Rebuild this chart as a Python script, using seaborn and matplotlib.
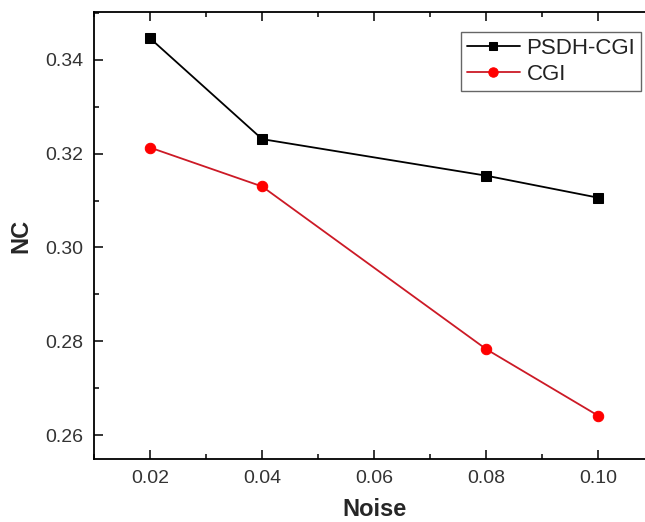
import matplotlib
matplotlib.use("Agg")
import matplotlib.pyplot as plt
import seaborn as sns
import pandas as pd
from matplotlib.ticker import MultipleLocator, FormatStrFormatter

noise = [0.02, 0.04, 0.08, 0.10]
psdh_cgi = [0.3446, 0.3231, 0.3153, 0.3106]
cgi = [0.3213, 0.3130, 0.2783, 0.2641]
series_names = ["PSDH-CGI", "CGI"]

sns.set_theme(style="ticks")
plt.rcParams["font.family"] = ["Liberation Sans", "DejaVu Sans"]

fig = plt.figure(figsize=(6.45, 5.22), dpi=100)
ax = fig.add_axes([94 / 645, 63 / 522, 560.5 / 645, 447 / 522])

df1 = pd.DataFrame({"Noise": noise, "NC": psdh_cgi})
df2 = pd.DataFrame({"Noise": noise, "NC": cgi})

sns.lineplot(data=df1, x="Noise", y="NC", ax=ax, color="black", lw=1.3,
             marker="s", markersize=6.5, markerfacecolor="black",
             markeredgecolor="black", label=series_names[0])
sns.lineplot(data=df2, x="Noise", y="NC", ax=ax, color="#cc1a26", lw=1.3,
             marker="o", markersize=7.5, markerfacecolor="#ff0000",
             markeredgecolor="#ff0000", label=series_names[1])

ax.set_xlim(0.01, 0.11)
ax.set_ylim(0.2549, 0.3502)
ax.xaxis.set_major_locator(MultipleLocator(0.02))
ax.xaxis.set_minor_locator(MultipleLocator(0.01))
ax.yaxis.set_major_locator(MultipleLocator(0.02))
ax.yaxis.set_minor_locator(MultipleLocator(0.01))
ax.xaxis.set_major_formatter(FormatStrFormatter("%.2f"))
ax.yaxis.set_major_formatter(FormatStrFormatter("%.2f"))

for s in ax.spines.values():
    s.set_visible(True)
    s.set_linewidth(1.3)
    s.set_color("black")

ax.tick_params(which="both", direction="in", top=True, right=True,
               color="black", width=1.1)
ax.tick_params(which="major", length=6.5, labelsize=14, pad=8,
               labelcolor="#333333")
ax.tick_params(which="minor", length=3.5)

ax.set_xlabel("Noise", fontsize=17, fontweight="bold", labelpad=8)
ax.set_ylabel("NC", fontsize=17, fontweight="bold", labelpad=9)

leg = ax.legend(loc="upper left", bbox_to_anchor=(461 / 645, 1 - 32 / 522),
                bbox_transform=fig.transFigure, fontsize=16, frameon=True,
                fancybox=False, edgecolor="#666666", framealpha=1,
                handlelength=2.4, handletextpad=0.3, labelspacing=0.25,
                borderpad=0.25, borderaxespad=0, markerscale=0.9)
leg.get_frame().set_linewidth(1.0)
for t in leg.get_texts():
    t.set_color("#222222")

fig.savefig("out.png", dpi=100)
